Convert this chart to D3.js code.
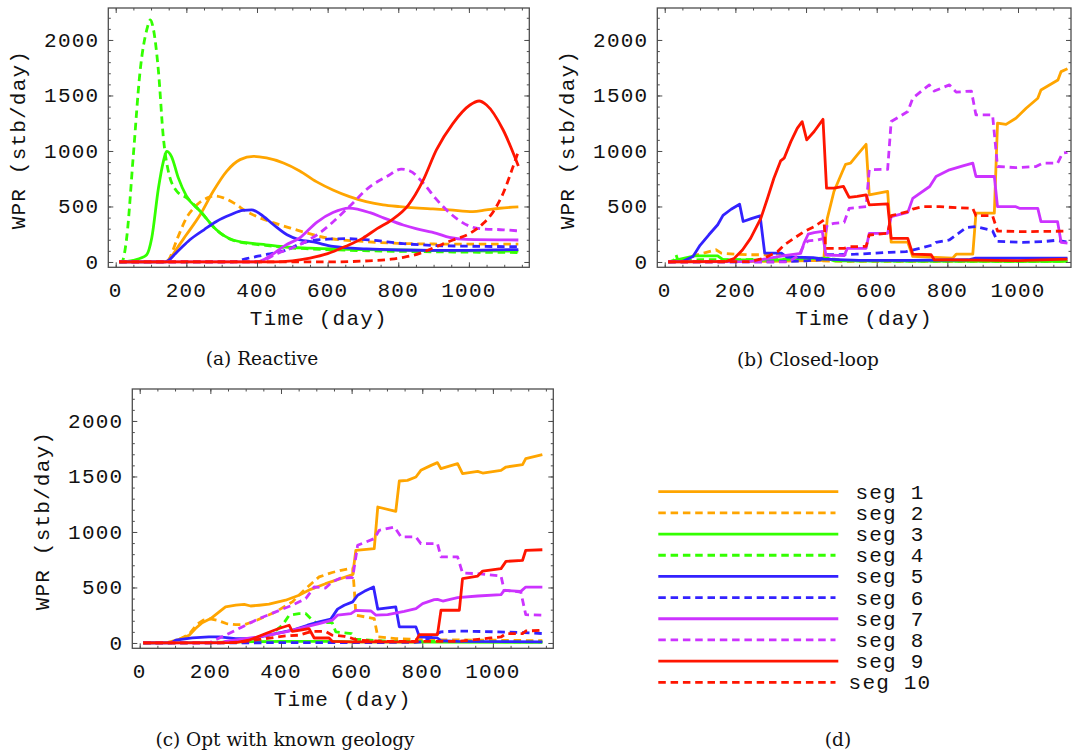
<!DOCTYPE html>
<html>
<head>
<meta charset="utf-8">
<script src="https://cdn.jsdelivr.net/npm/d3@7"></script>
<style>
  body { margin: 0; background: #fff; }
  .mono { font-family: "Liberation Mono", "DejaVu Sans Mono", monospace; font-size: 21px; letter-spacing: 1.2px; fill: #111; }
  .cap { font-family: "DejaVu Serif", serif; font-size: 18.5px; fill: #111; }
</style>
</head>
<body>
<svg id="fig" width="1074" height="755"></svg>
<script>
// water production rate per segment, [day, stb/day]

const segNames = ['seg 1', 'seg 2', 'seg 3', 'seg 4', 'seg 5', 'seg 6', 'seg 7', 'seg 8', 'seg 9', 'seg 10'];
const xTicks = [0, 200, 400, 600, 800, 1000];
const yTicks = [0, 500, 1000, 1500, 2000];
const captions = ['(a) Reactive', '(b) Closed-loop', '(c) Opt with known geology', '(d)'];

// (a) reactive
const reactiveWPR = [
  [[10,0],[140,0],[150,20],[175,130],[200,245],[240,430],[276,637],[314,817],[352,922],[390,952],[427,937],[475,892],[521,820],[568,724],[615,649],[662,589],[709,544],[757,514],[804,499],[898,478],[945,469],[1011,454],[1049,469],[1087,484],[1140,497]],
  [[10,0],[145,0],[150,20],[175,215],[200,395],[230,515],[258,575],[280,595],[305,578],[335,530],[370,455],[410,395],[450,350],[495,305],[540,262],[600,215],[700,185],[800,168],[900,162],[1000,160],[1140,160]],
  [[10,0],[50,15],[75,40],[88,66],[102,216],[121,667],[135,907],[144,997],[158,950],[177,760],[200,595],[240,455],[285,290],[330,200],[380,170],[425,155],[480,135],[550,125],[700,112],[800,108],[900,103],[1000,100],[1140,97]],
  [[10,0],[17,0],[31,216],[50,967],[69,1718],[88,2093],[98,2180],[107,2093],[121,1718],[135,1117],[149,817],[173,637],[201,577],[240,455],[285,288],[330,198],[380,165],[430,148],[490,128],[550,118],[700,102],[900,92],[1140,85]],
  [[10,0],[140,0],[175,95],[210,200],[250,290],[285,365],[325,425],[360,465],[385,470],[410,430],[445,340],[485,245],[520,200],[560,180],[615,140],[710,118],[800,108],[900,104],[1000,105],[1140,112]],
  [[10,0],[330,0],[370,30],[430,70],[485,110],[520,160],[560,195],[600,205],[650,210],[720,198],[814,165],[908,148],[1000,142],[1140,138]],
  [[10,0],[400,0],[440,60],[480,150],[520,215],[570,360],[615,445],[660,485],[720,444],[760,395],[814,333],[850,300],[908,258],[945,222],[993,204],[1140,198]],
  [[10,0],[400,0],[460,80],[520,155],[570,245],[615,360],[660,495],[720,679],[767,769],[809,836],[833,820],[871,710],[905,575],[950,430],[1000,325],[1031,300],[1097,290],[1140,280]],
  [[10,0],[450,0],[500,10],[550,35],[600,75],[650,140],[700,215],[740,300],[781,378],[828,510],[871,739],[908,1009],[955,1249],[1003,1414],[1029,1450],[1050,1414],[1097,1189],[1140,865]],
  [[10,0],[600,0],[700,8],[780,25],[815,42],[861,78],[908,138],[955,198],[1003,258],[1041,348],[1069,453],[1097,619],[1125,859],[1140,995]]
];

// (b) closed-loop
const closedLoopWPR = [
  [[10,0],[300,5],[450,15],[460,390],[479,635],[503,815],[512,880],[526,890],[545,965],[570,1060],[579,605],[631,635],[641,178],[688,178],[702,50],[815,35],[825,70],[872,70],[881,440],[933,440],[942,1250],[966,1240],[994,1295],[1023,1385],[1056,1475],[1065,1550],[1089,1595],[1113,1640],[1122,1715],[1140,1740]],
  [[10,0],[50,10],[85,60],[110,80],[145,110],[160,80],[200,70],[240,65],[290,65],[330,75],[345,20],[500,5],[1140,5]],
  [[10,0],[50,30],[85,55],[150,55],[165,20],[300,15],[380,30],[460,35],[480,10],[1140,5]],
  [[10,0],[25,10],[32,65],[38,10],[100,20],[200,20],[300,25],[420,30],[480,25],[520,10],[1140,5]],
  [[10,0],[50,5],[80,50],[100,150],[125,245],[150,335],[165,420],[188,475],[212,520],[222,365],[245,390],[270,415],[283,80],[330,80],[345,45],[420,40],[450,25],[550,15],[700,15],[860,20],[880,35],[1140,35]],
  [[10,0],[300,0],[350,5],[400,10],[440,20],[460,65],[540,70],[590,78],[636,87],[683,93],[730,130],[758,153],[768,177],[806,198],[825,243],[853,309],[881,318],[919,290],[928,280],[942,185],[1013,177],[1070,183],[1108,195],[1140,180]],
  [[10,0],[240,3],[290,30],[338,57],[385,78],[394,168],[406,250],[423,265],[446,275],[456,63],[508,57],[517,123],[570,123],[579,258],[631,258],[641,408],[688,447],[702,573],[750,680],[768,770],[806,830],[844,865],[872,890],[881,770],[933,770],[942,498],[994,498],[1004,483],[1056,483],[1065,363],[1112,363],[1122,177],[1140,170]],
  [[10,0],[350,0],[380,60],[394,153],[406,190],[432,198],[451,213],[460,333],[479,348],[508,357],[522,483],[570,498],[579,830],[631,835],[641,1265],[688,1355],[702,1475],[731,1550],[749,1595],[763,1540],[806,1595],[825,1530],[868,1540],[881,1325],[928,1325],[942,860],[994,850],[1051,860],[1070,890],[1112,890],[1126,980],[1140,988]],
  [[10,0],[175,5],[196,30],[220,108],[243,213],[272,393],[291,574],[309,754],[328,910],[338,935],[357,1084],[375,1204],[389,1264],[402,1100],[423,1175],[448,1285],[458,665],[479,665],[506,680],[522,582],[545,590],[570,605],[579,515],[631,523],[641,213],[688,213],[702,70],[754,65],[763,20],[815,18],[1000,12],[1140,25]],
  [[10,0],[240,3],[281,33],[319,93],[338,153],[366,213],[394,273],[423,318],[451,378],[455,123],[508,123],[522,138],[570,140],[579,243],[631,258],[641,417],[688,453],[702,477],[731,498],[778,498],[825,489],[872,483],[881,417],[928,417],[942,279],[1013,273],[1140,278]]
];

// (c) optimised with known geology
const knownGeologyWPR = [
  [[10,0],[80,5],[110,30],[140,70],[158,130],[177,183],[201,220],[225,280],[243,325],[272,340],[296,348],[314,333],[338,340],[366,350],[413,385],[451,430],[484,483],[526,534],[569,579],[603,616],[612,835],[664,850],[674,1225],[725,1186],[735,1459],[758,1465],[782,1495],[796,1555],[825,1600],[843,1625],[853,1570],[900,1615],[914,1525],[957,1546],[971,1531],[1023,1555],[1037,1585],[1084,1606],[1093,1660],[1140,1696]],
  [[10,0],[90,5],[110,30],[140,80],[163,170],[180,205],[200,218],[220,205],[245,175],[272,165],[296,165],[320,190],[385,280],[432,370],[470,490],[508,595],[545,635],[570,655],[603,675],[608,460],[612,250],[664,220],[674,55],[725,40],[800,30],[1000,25],[1140,20]],
  [[10,0],[200,5],[400,15],[550,15],[600,10],[1140,5]],
  [[10,0],[300,5],[338,25],[375,85],[404,160],[423,250],[451,265],[470,265],[484,220],[498,183],[545,183],[555,100],[600,85],[610,35],[700,15],[1140,10]],
  [[10,0],[90,2],[102,25],[149,45],[196,55],[225,55],[272,40],[319,40],[385,85],[432,115],[475,160],[508,190],[541,215],[560,305],[579,340],[603,370],[617,430],[636,465],[662,505],[674,305],[725,325],[735,145],[782,145],[792,55],[843,45],[853,20],[900,15],[1140,10]],
  [[10,0],[780,5],[800,10],[843,85],[853,100],[900,108],[1013,100],[1089,93],[1140,85]],
  [[10,0],[230,2],[243,15],[338,55],[413,100],[470,145],[508,175],[545,205],[560,250],[598,264],[612,294],[655,288],[669,250],[702,255],[749,285],[782,310],[801,354],[834,390],[843,393],[858,378],[900,408],[957,423],[1023,435],[1032,474],[1079,465],[1093,504],[1140,504]],
  [[10,0],[196,0],[243,70],[290,145],[338,220],[385,280],[432,340],[470,400],[484,460],[494,505],[526,495],[545,550],[569,585],[603,590],[617,880],[664,940],[678,1015],[721,1045],[740,955],[782,955],[796,895],[843,895],[853,775],[900,775],[914,630],[957,624],[1023,603],[1032,474],[1079,459],[1093,255],[1140,250]],
  [[10,0],[272,3],[309,25],[357,85],[394,130],[423,160],[432,105],[455,115],[479,130],[494,45],[536,45],[545,15],[600,10],[780,10],[792,75],[843,75],[853,295],[905,295],[914,580],[957,603],[971,648],[1023,670],[1037,735],[1084,745],[1093,835],[1140,840]],
  [[10,0],[250,2],[290,10],[357,40],[413,63],[451,70],[475,93],[489,105],[526,105],[545,70],[580,60],[598,45],[617,25],[700,15],[900,15],[957,33],[994,45],[1023,54],[1037,84],[1084,84],[1093,108],[1140,114]]
];

// styles
const segColors = ['#ffa500', '#ffa500', '#33ff00', '#33ff00', '#3322ff', '#3322ff', '#cc33ff', '#cc33ff', '#ff1500', '#ff1500'];
const segDashed = [false, true, false, true, false, true, false, true, false, true];
const frameColor = '#4d4d4d';

const svg = d3.select('#fig');

const panels = [
  { key: 'a', data: reactiveWPR, left: 108.3, top: 8, width: 421, height: 259.3, xMax: 1171, smooth: true, cap: captions[0], capX: 262, capY: 365 },
  { key: 'b', data: closedLoopWPR, left: 657.3, top: 8, width: 413.7, height: 259.3, xMax: 1150, smooth: false, cap: captions[1], capX: 808, capY: 366 },
  { key: 'c', data: knownGeologyWPR, left: 132.3, top: 389, width: 421, height: 259.3, xMax: 1171, smooth: false, cap: captions[2], capX: 285, capY: 746 }
];

function drawPanel(p) {
  const g = svg.append('g').attr('class', 'panel-' + p.key);
  const x = d3.scaleLinear().domain([-21, p.xMax]).range([p.left, p.left + p.width]);
  const y = d3.scaleLinear().domain([-48, 2288]).range([p.top + p.height, p.top]);

  // clip curves to the frame
  svg.append('clipPath').attr('id', 'clip-' + p.key)
    .append('rect')
    .attr('x', p.left).attr('y', p.top)
    .attr('width', p.width).attr('height', p.height);

  const line = d3.line()
    .x(d => x(d[0]))
    .y(d => y(d[1]))
    .curve(p.smooth ? d3.curveMonotoneX : d3.curveLinear);

  g.append('g')
    .attr('clip-path', 'url(#clip-' + p.key + ')')
    .selectAll('path')
    .data(p.data)
    .join('path')
    .attr('d', line)
    .attr('fill', 'none')
    .attr('stroke', (d, i) => segColors[i])
    .attr('stroke-width', 2.8)
    .attr('stroke-linejoin', 'round')
    .attr('stroke-dasharray', (d, i) => segDashed[i] ? '7.5,4.8' : null);

  // inward frame ticks, all four sides
  const xMinor = d3.range(0, p.xMax, 50);
  const yMinor = d3.range(0, 2201, 100);
  const bottom = p.top + p.height, right = p.left + p.width;

  const axes = [
    [d3.axisBottom(x), `translate(0,${bottom})`, xMinor, xTicks],
    [d3.axisTop(x), `translate(0,${p.top})`, xMinor, xTicks],
    [d3.axisLeft(y), `translate(${p.left},0)`, yMinor, yTicks],
    [d3.axisRight(y), `translate(${right},0)`, yMinor, yTicks]
  ];
  axes.forEach(([ax, tr, minor, major]) => {
    g.append('g').attr('transform', tr)
      .call(ax.tickValues(minor).tickSize(-2.5).tickFormat(''))
      .call(s => s.select('.domain').remove());
    g.append('g').attr('transform', tr)
      .call(ax.tickValues(major).tickSize(-5).tickFormat(''))
      .call(s => s.select('.domain').remove());
  });
  g.selectAll('.tick line').attr('stroke', frameColor).attr('stroke-width', 1);

  g.append('rect')
    .attr('x', p.left).attr('y', p.top)
    .attr('width', p.width).attr('height', p.height)
    .attr('fill', 'none').attr('stroke', frameColor).attr('stroke-width', 1.3);

  // tick labels
  g.selectAll('text.xt').data(xTicks).join('text')
    .attr('class', 'mono xt')
    .attr('x', d => x(d)).attr('y', bottom + 30)
    .attr('text-anchor', 'middle')
    .text(d => d);
  g.selectAll('text.yt').data(yTicks).join('text')
    .attr('class', 'mono yt')
    .attr('x', p.left - 9).attr('y', d => y(d) + 7)
    .attr('text-anchor', 'end')
    .text(d => d);

  // axis titles
  g.append('text').attr('class', 'mono')
    .attr('x', p.left + p.width / 2).attr('y', bottom + 58)
    .attr('text-anchor', 'middle')
    .text('Time (day)');
  g.append('text').attr('class', 'mono')
    .attr('transform', `translate(${p.left - 83},${p.top + p.height / 2 + 2}) rotate(-90)`)
    .attr('text-anchor', 'middle')
    .text('WPR (stb/day)');

  g.append('text').attr('class', 'cap')
    .attr('x', p.capX).attr('y', p.capY)
    .attr('text-anchor', 'middle')
    .text(p.cap);
}

panels.forEach(drawPanel);

// (d) legend
const legend = svg.append('g').attr('class', 'legend');
const ly = d3.scalePoint().domain(segNames).range([491.7, 682.3]);

legend.selectAll('line').data(segNames).join('line')
  .attr('x1', 658.3).attr('x2', (d, i) => segDashed[i] ? 835.5 : 838.3)
  .attr('y1', d => ly(d)).attr('y2', d => ly(d))
  .attr('stroke', (d, i) => segColors[i])
  .attr('stroke-width', 2.8)
  .attr('stroke-dasharray', (d, i) => segDashed[i] ? '7.5,4.8' : null);

legend.selectAll('text').data(segNames).join('text')
  .attr('class', 'mono')
  .attr('x', 890).attr('y', d => ly(d) + 7)
  .attr('text-anchor', 'middle')
  .text(d => d.replace(' ', '\u00a0'));

svg.append('text').attr('class', 'cap')
  .attr('x', 838).attr('y', 746)
  .attr('text-anchor', 'middle')
  .text(captions[3]);
</script>
</body>
</html>
